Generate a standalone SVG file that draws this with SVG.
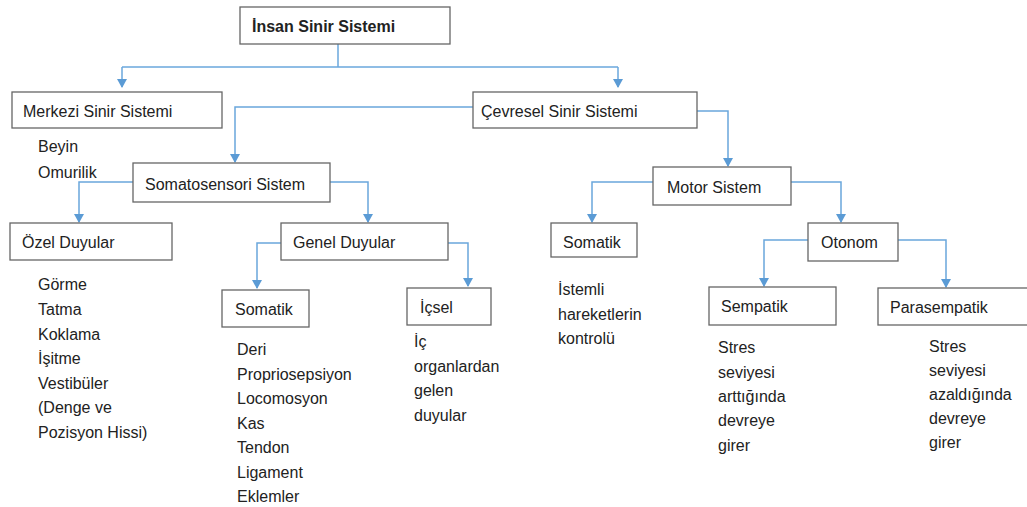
<svg xmlns="http://www.w3.org/2000/svg" width="1027" height="507" viewBox="0 0 1027 507">
<style>
.box{fill:#fff;stroke:#666;stroke-width:1.3}
.t{font-family:"Liberation Sans",Arial,sans-serif;font-size:16px;fill:#222}
.b{font-weight:bold}
.c{fill:none;stroke:#6aa7dc;stroke-width:1.5;marker-end:url(#ah)}
.n{fill:none;stroke:#6aa7dc;stroke-width:1.5}
</style>
<defs>
<marker id="ah" viewBox="0 0 9 10" refX="8" refY="5" markerWidth="9" markerHeight="10" orient="auto" markerUnits="userSpaceOnUse">
<path d="M0,0 L9,5 L0,10 z" fill="#5b9bd5"/>
</marker>
</defs>
<rect width="1027" height="507" fill="#fff"/>
<g id="connectors">
<path class="n" d="M338,44 V67"/>
<path class="n" d="M122,67 H618"/>
<path class="c" d="M122,67 V87"/>
<path class="c" d="M618,67 V87"/>
<path class="c" d="M473,107 H235 V162"/>
<path class="c" d="M697,111 H728 V166"/>
<path class="c" d="M133,182 H79 V222"/>
<path class="c" d="M330,182 H368 V222"/>
<path class="c" d="M281,243 H257 V288"/>
<path class="c" d="M448,243 H468 V286"/>
<path class="c" d="M653,182 H592 V222"/>
<path class="c" d="M791,182 H841 V222"/>
<path class="c" d="M808,240 H764 V286"/>
<path class="c" d="M898,240 H946 V287"/>
</g>
<g id="insan">
<rect class="box" x="240" y="7" width="210" height="37"/>
<text class="t b" x="252" y="32">İnsan Sinir Sistemi</text>
</g>
<g id="merkezi">
<rect class="box" x="12" y="92" width="210" height="36"/>
<text class="t" x="23" y="117">Merkezi Sinir Sistemi</text>
<text class="t" x="38" y="152">Beyin</text>
<text class="t" x="38" y="178">Omurilik</text>
</g>
<g id="cevresel">
<rect class="box" x="473" y="92" width="224" height="36"/>
<text class="t" x="481" y="117">Çevresel Sinir Sistemi</text>
</g>
<g id="somatosensori">
<rect class="box" x="133" y="163" width="197" height="39"/>
<text class="t" x="145" y="190">Somatosensori Sistem</text>
</g>
<g id="motor">
<rect class="box" x="653" y="167" width="138" height="38"/>
<text class="t" x="667" y="193">Motor Sistem</text>
</g>
<g id="ozel">
<rect class="box" x="10" y="223" width="162" height="37"/>
<text class="t" x="22" y="248">Özel Duyular</text>
<text class="t" x="38" y="290">Görme</text>
<text class="t" x="38" y="315">Tatma</text>
<text class="t" x="38" y="340">Koklama</text>
<text class="t" x="38" y="364">İşitme</text>
<text class="t" x="38" y="389">Vestibüler</text>
<text class="t" x="38" y="413">(Denge ve</text>
<text class="t" x="38" y="438">Pozisyon Hissi)</text>
</g>
<g id="genel">
<rect class="box" x="281" y="223" width="167" height="37"/>
<text class="t" x="293" y="248">Genel Duyular</text>
</g>
<g id="somatik1">
<rect class="box" x="222" y="290" width="87" height="37"/>
<text class="t" x="235" y="315">Somatik</text>
<text class="t" x="237" y="355">Deri</text>
<text class="t" x="237" y="380">Propriosepsiyon</text>
<text class="t" x="237" y="404">Locomosyon</text>
<text class="t" x="237" y="429">Kas</text>
<text class="t" x="237" y="453">Tendon</text>
<text class="t" x="237" y="478">Ligament</text>
<text class="t" x="237" y="502">Eklemler</text>
</g>
<g id="icsel">
<rect class="box" x="407" y="288" width="84" height="37"/>
<text class="t" x="420" y="313">İçsel</text>
<text class="t" x="414" y="347">İç</text>
<text class="t" x="414" y="372">organlardan</text>
<text class="t" x="414" y="396">gelen</text>
<text class="t" x="414" y="421">duyular</text>
</g>
<g id="somatik2">
<rect class="box" x="551" y="223" width="86" height="34"/>
<text class="t" x="563" y="248">Somatik</text>
<text class="t" x="558" y="295">İstemli</text>
<text class="t" x="558" y="320">hareketlerin</text>
<text class="t" x="558" y="344">kontrolü</text>
</g>
<g id="otonom">
<rect class="box" x="808" y="223" width="90" height="38"/>
<text class="t" x="821" y="248">Otonom</text>
</g>
<g id="sempatik">
<rect class="box" x="709" y="287" width="127" height="38"/>
<text class="t" x="721" y="312">Sempatik</text>
<text class="t" x="718" y="353">Stres</text>
<text class="t" x="718" y="378">seviyesi</text>
<text class="t" x="718" y="402">arttığında</text>
<text class="t" x="718" y="426">devreye</text>
<text class="t" x="718" y="451">girer</text>
</g>
<g id="parasempatik">
<rect class="box" x="878" y="288" width="160" height="37"/>
<text class="t" x="890" y="313">Parasempatik</text>
<text class="t" x="929" y="352">Stres</text>
<text class="t" x="929" y="376">seviyesi</text>
<text class="t" x="929" y="400">azaldığında</text>
<text class="t" x="929" y="424">devreye</text>
<text class="t" x="929" y="448">girer</text>
</g>
</svg>
